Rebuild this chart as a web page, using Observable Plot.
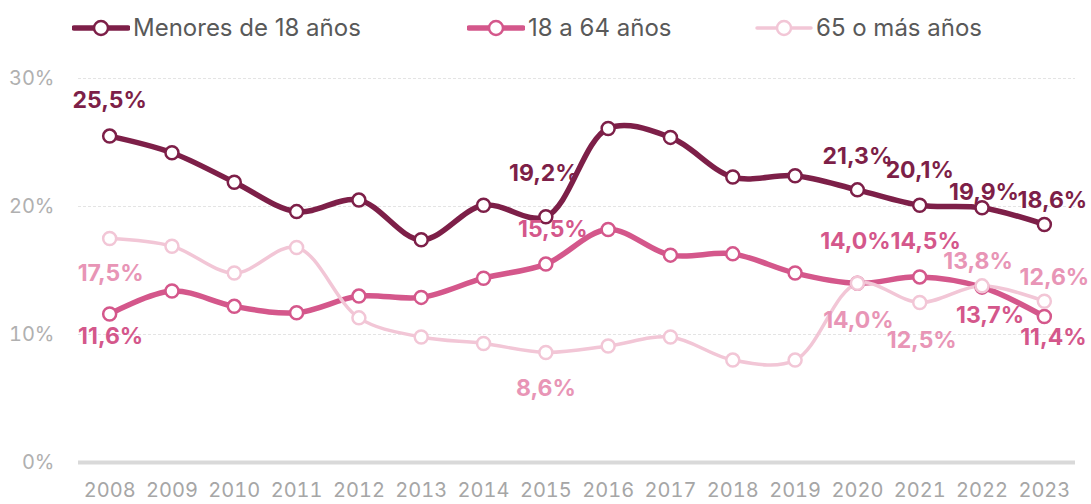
<!DOCTYPE html>
<html><head><meta charset="utf-8">
<script src="https://cdn.jsdelivr.net/npm/d3@7"></script>
<script src="https://cdn.jsdelivr.net/npm/@observablehq/plot@0.6"></script>
<style>
body{margin:0;background:#fff;font-family:Inter,Roboto,sans-serif;}
#legend{height:56px;position:relative;}
#legend .item{position:absolute;top:13px;display:flex;align-items:center;font-size:24px;line-height:30px;color:#595959;}
#legend svg{margin-right:3px}
</style></head>
<body>
<div id="legend"></div>
<div id="chart"></div>
<script>
const years = [2008,2009,2010,2011,2012,2013,2014,2015,2016,2017,2018,2019,2020,2021,2022,2023];
const seriesNames = ["Menores de 18 años","18 a 64 años","65 o más años"];
const menores = [25.5,24.2,21.9,19.6,20.5,17.4,20.1,19.2,26.1,25.4,22.3,22.4,21.3,20.1,19.9,18.6];
const adultos = [11.6,13.4,12.2,11.7,13.0,12.9,14.4,15.5,18.2,16.2,16.3,14.8,14.0,14.5,13.7,11.4];
const mayores = [17.5,16.9,14.8,16.8,11.3,9.8,9.3,8.6,9.1,9.8,8.0,8.0,14.0,12.5,13.8,12.6];
const yTicks = [0,10,20,30];

const colors = ["#7d1f48","#d4578b","#f2c6d6"];
const labelColors = ["#7d1f48","#d4578b","#e895b6"];
const widths = [5.5,5.5,3.5];

const seriesVals = [menores, adultos, mayores];
const data = [];
seriesVals.forEach((vals, s) => vals.forEach((v, i) => data.push({serie: seriesNames[s], s, year: years[i], value: v})));

// label placement (which points are labelled and offset)
const labelSpec = [
  [[2008,0,-35],[2015,-2,-43],[2020,0,-33],[2021,0,-35],[2022,2,-15],[2023,8,-24]],
  [[2008,1,23],[2015,7,-34],[2020,-2,-42],[2021,6,-35],[2022,8,28],[2023,9,21]],
  [[2008,1,35],[2015,0,36],[2020,1,37],[2021,2,38],[2022,-4,-24],[2023,10,-24]]
];
const fmt = v => v.toFixed(1).replace(".", ",") + "%";

// legend
const legendPos = [72, 467, 755];
const legend = document.getElementById("legend");
seriesNames.forEach((n, s) => {
  const d = document.createElement("div");
  d.className = "item";
  d.style.left = legendPos[s] + "px";
  d.innerHTML = `<svg width="58" height="20"><line x1="2" x2="56" y1="10" y2="10" stroke="${colors[s]}" stroke-width="${widths[s]}" stroke-linecap="round"/><circle cx="29" cy="10" r="7" fill="#fff" stroke="${colors[s]}" stroke-width="2.5"/></svg><span>${n}</span>`;
  legend.appendChild(d);
});

const marks = [
  Plot.ruleY([10,20,30], {stroke: "#e4e4e4", strokeDasharray: "3,2", strokeWidth: 1}),
  Plot.ruleY([0], {stroke: "#d9d9d9", strokeWidth: 4}),
  Plot.axisY({ticks: yTicks, tickFormat: d => d + "%", tickSize: 0, tickPadding: 24, fontSize: 20, color: "#b0b0b0", label: null}),
  Plot.axisX({ticks: years, tickFormat: d => String(d), tickSize: 0, tickPadding: 20, fontSize: 20, color: "#a6a6a6", label: null})
];
[0,1,2].forEach(s => {
  const d = data.filter(r => r.s === s);
  marks.push(Plot.line(d, {x: "year", y: "value", stroke: colors[s], strokeWidth: widths[s], curve: "catmull-rom"}));
});
[0,1,2].forEach(s => {
  const d = data.filter(r => r.s === s);
  marks.push(Plot.dot(d, {x: "year", y: "value", r: 6.5, fill: "#fff", stroke: colors[s], strokeWidth: 2.5}));
});
[0,1,2].forEach(s => {
  labelSpec[s].forEach(([yr, dx, dy]) => {
    const row = data.find(r => r.s === s && r.year === yr);
    marks.push(Plot.text([row], {x: "year", y: "value", text: r => fmt(r.value), dx, dy, fill: labelColors[s], fontSize: 23, fontWeight: "bold"}));
  });
});

const chart = Plot.plot({
  width: 1091, height: 448,
  marginLeft: 78, marginRight: 16, marginTop: 22, marginBottom: 42,
  style: {fontFamily: "Inter, Roboto, sans-serif", background: "#fff"},
  x: {domain: [2007.5, 2023.5], axis: null},
  y: {domain: [0, 30], axis: null},
  marks
});
document.getElementById("chart").appendChild(chart);
</script>
</body></html>
